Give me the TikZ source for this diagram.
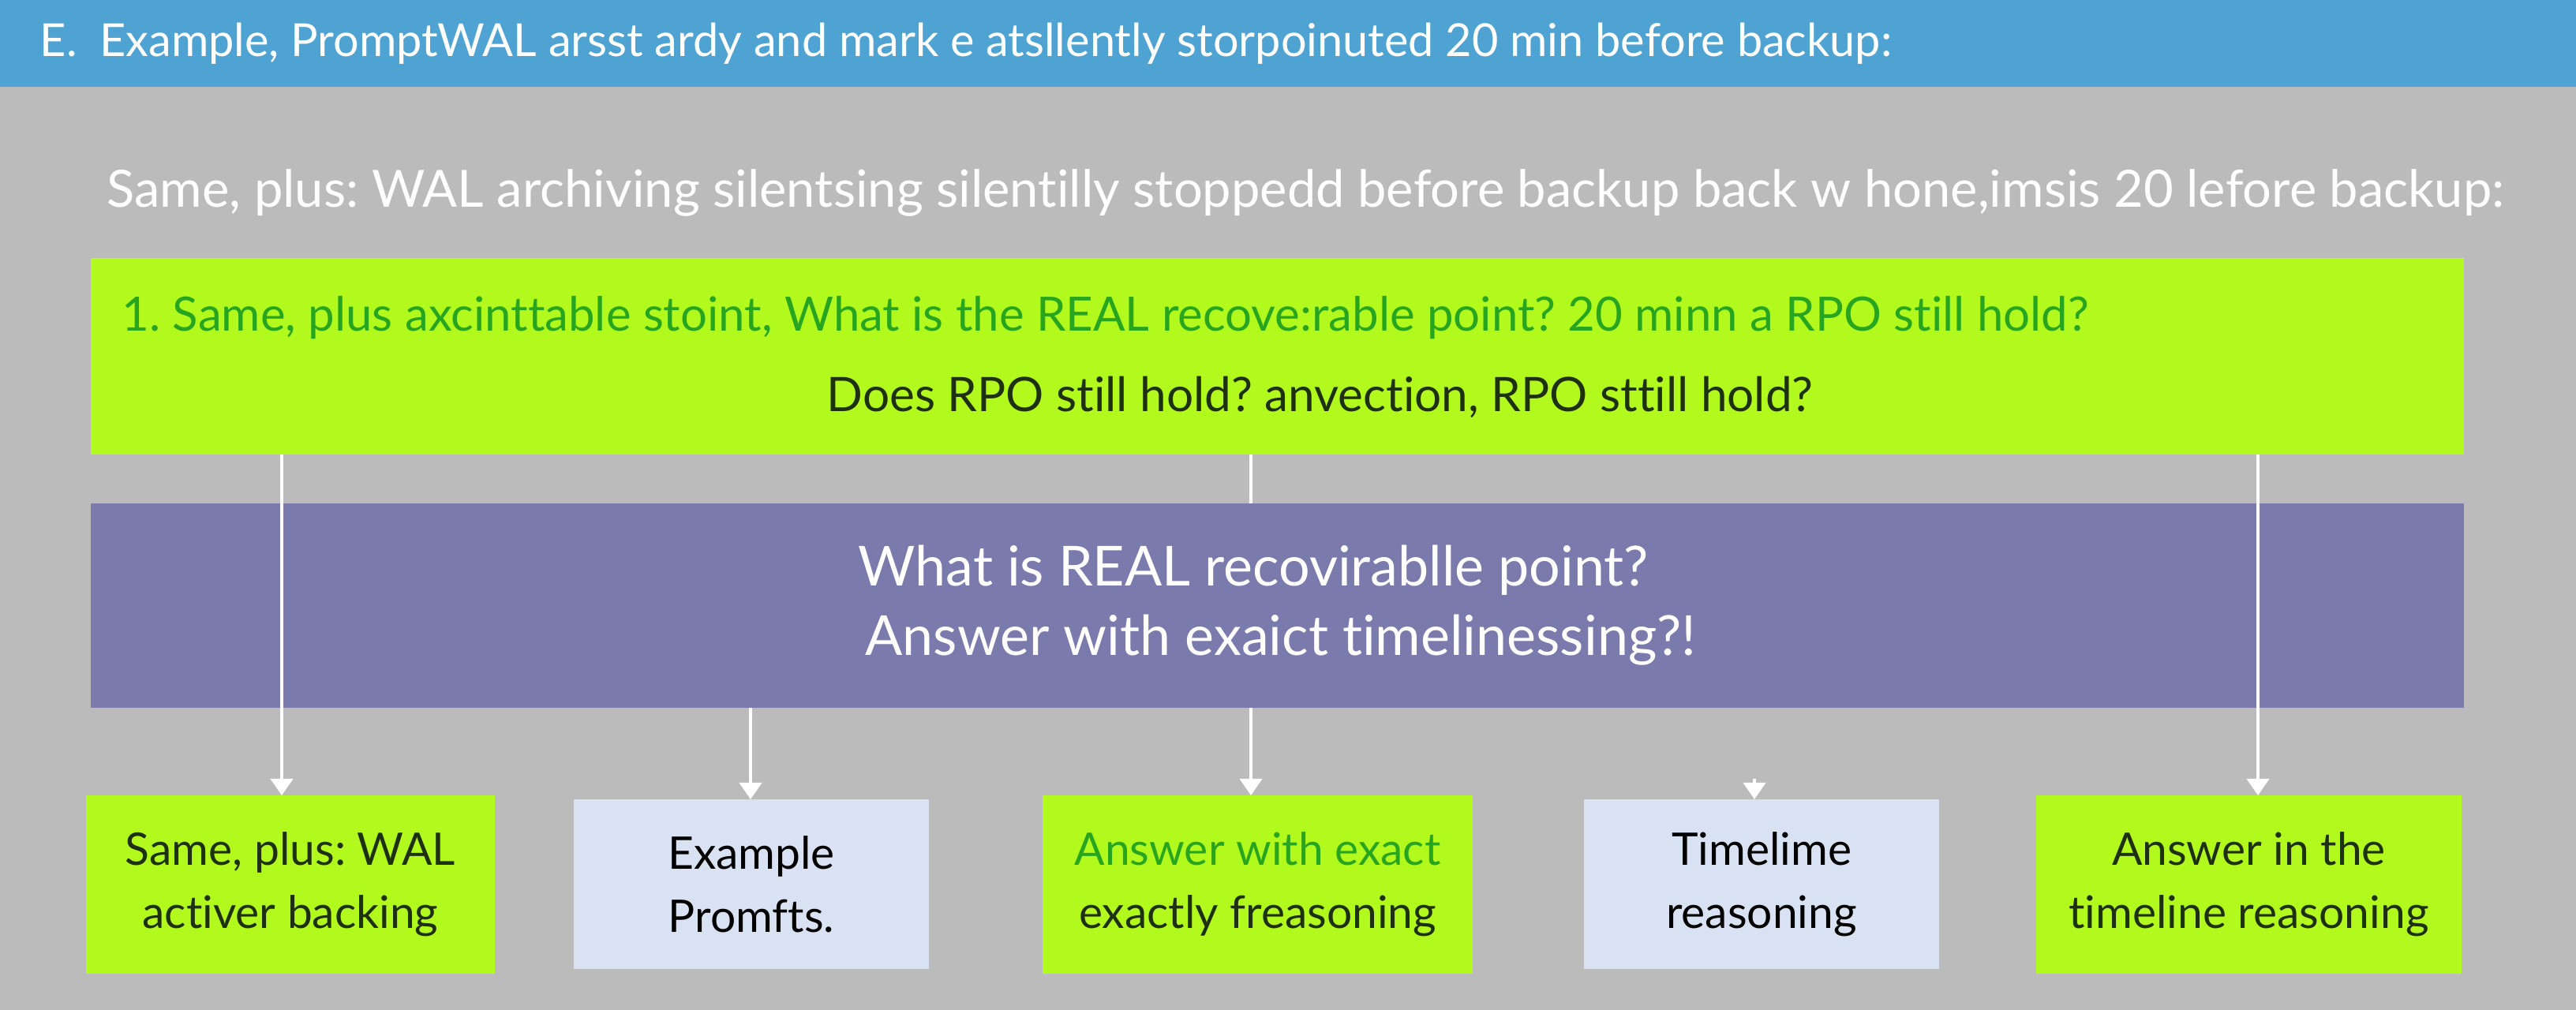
\documentclass[tikz,border=0pt]{standalone}
\usepackage{fontspec}
\setmainfont{Lato}[Ligatures={NoCommon,NoContextual}]
\usepackage{xcolor}
\usetikzlibrary{arrows.meta,positioning}
\tikzset{>={Triangle[length=2.1mm,width=2.8mm]}}
\frenchspacing

\definecolor{bargray}{RGB}{187,187,187}
\definecolor{barblue}{RGB}{79,163,210}
\definecolor{limefill}{RGB}{178,250,30}
\definecolor{violetfill}{RGB}{123,122,172}
\definecolor{palefill}{RGB}{216,226,242}
\definecolor{leafgreen}{RGB}{40,165,30}
\definecolor{darkleaf}{RGB}{30,48,14}

\begin{document}
\begin{tikzpicture}[
  panel/.style={anchor=north west, inner sep=0pt, outer sep=0pt},
  card/.style={inner sep=0pt, outer sep=0pt, align=center,
               font=\fontsize{16.2}{22.8}\selectfont},
  wire/.style={draw=white, line width=0.4mm}]
  \useasboundingbox (0,0) rectangle (32.64,-12.80);

  % Background and title bar
  \fill[bargray] (0,0) rectangle (32.64,-12.80);
  \node[panel, fill=barblue, minimum width=32.64cm, minimum height=1.10cm] (bar) at (0,0) {};
  \node[anchor=base west, text=white, inner sep=0pt, font=\fontsize{16.4}{19}\selectfont] (title) at (0.50,-0.72)
       {E.\hspace{0.5em}Example, PromptWAL arsst ardy and mark e atsllently storpoinuted 20 min before backup:};
  \node[anchor=base west, text=white, inner sep=0pt, font=\fontsize{18.5}{22}\selectfont] (lead) at (1.35,-2.63)
       {Same, plus: WAL archiving silentsing silentilly stoppedd before backup back w hone,imsis 20 lefore backup:};

  % Question panel
  \node[panel, fill=limefill, minimum width=30.07cm, minimum height=2.49cm] (ask) at (1.15,-3.27) {};
  \node[anchor=base west, text=leafgreen, inner sep=0pt, font=\fontsize{17.05}{20}\selectfont] (ask1) at (1.54,-4.20)
       {1. Same, plus axcinttable stoint, What is the REAL recove:rable point? 20 minn a RPO still hold?};
  \node[anchor=base west, text=darkleaf, inner sep=0pt, font=\fontsize{17.15}{20}\selectfont] (ask2) at (10.47,-5.22)
       {Does RPO still hold? anvection, RPO sttill hold?};

  % Answer panel
  \node[panel, fill=violetfill, minimum width=30.07cm, minimum height=2.59cm, text=white, align=left,
        font=\fontsize{19.9}{25}\selectfont] (core) at (1.15,-6.38)
       {What is REAL recovirablle point?\\\hspace*{0.09cm}Answer with exaict timelinessing?!};

  % Result cards
  \node[card, fill=limefill, text=darkleaf, minimum width=5.18cm, minimum height=2.26cm] (r1) at (3.68,-11.21)
       {Same, plus: WAL\\activer backing};
  \node[card, fill=palefill, text=black, minimum width=4.50cm, minimum height=2.15cm] (r2) at (9.52,-11.205)
       {Example\\Promfts.};
  \node[card, fill=limefill, minimum width=5.45cm, minimum height=2.26cm] (r3) at (15.935,-11.21)
       {\textcolor{leafgreen}{Answer with exact}\\\textcolor{darkleaf}{exactly freasoning}};
  \node[card, fill=palefill, text=black, minimum width=4.50cm, minimum height=2.15cm] (r4) at (22.32,-11.205)
       {Timelime\\reasoning};
  \node[card, fill=limefill, text=darkleaf, minimum width=5.39cm, minimum height=2.26cm] (r5) at (28.495,-11.21)
       {Answer in the\\timeline reasoning};

  % Connector columns
  \coordinate (k1) at (3.57,0);
  \coordinate (k2) at (9.51,0);
  \coordinate (k3) at (15.85,0);
  \coordinate (k4) at (22.23,0);
  \coordinate (k5) at (28.61,0);

  \draw[wire,->] (ask.south -| k1) -- (r1.north -| k1);
  \draw[wire] (ask.south -| k3) -- (core.north -| k3);
  \draw[wire,->] (ask.south -| k5) -- (r5.north -| k5);
  \draw[wire,->] (core.south -| k2) -- (r2.north -| k2);
  \draw[wire,->] (core.south -| k3) -- (r3.north -| k3);
  \draw[wire,->,shorten <=0.9cm] (core.south -| k4) -- (r4.north -| k4);
\end{tikzpicture}
\end{document}
